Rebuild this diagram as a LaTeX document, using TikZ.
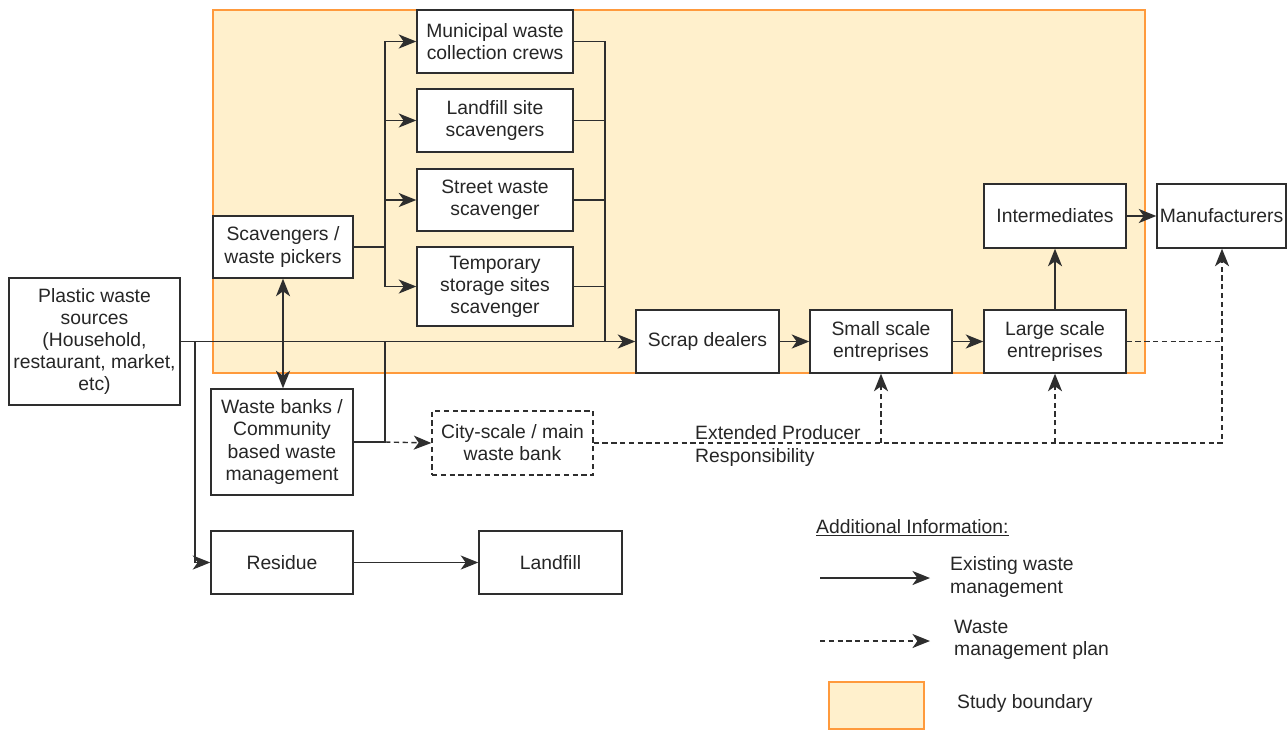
\documentclass[tikz,border=0pt]{standalone}
\usepackage{fontspec}
\setmainfont{Liberation Sans}
\usetikzlibrary{arrows.meta}

\definecolor{boundfill}{HTML}{FFF0CC}
\definecolor{boundline}{HTML}{FF9A3C}
\definecolor{linegray}{HTML}{2E2E2E}

\begin{document}
\begin{tikzpicture}[x=0.02cm, y=-0.02cm, >={Stealth[length=10pt,width=8pt,inset=2.8pt]},
    every node/.style={text=black!85, font=\fontsize{11}{12.6}\selectfont},
    box/.style={draw=linegray, fill=white, line width=0.8pt, align=center, inner sep=1pt},
    planbox/.style={box, dash pattern=on 3pt off 2pt},
    flow/.style={draw=linegray, line width=0.8pt},
    plan/.style={flow, dash pattern=on 3pt off 2pt},
    boundary/.style={draw=boundline, fill=boundfill, line width=1pt}]

    \useasboundingbox (0,0) rectangle (1287,731);

    % Study boundary
    \draw[boundary] (213,10) rectangle (1145,373);

    % Sources and collection
    \node[box, minimum width=3.42cm, minimum height=2.54cm] (src) at (94.5,341.5) {Plastic waste\\sources\\(Household,\\restaurant, market,\\etc)};
    \node[box, minimum width=2.8cm, minimum height=1.24cm] (scav) at (283,247) {Scavengers /\\waste pickers};
    \node[box, minimum width=2.84cm, minimum height=2.12cm] (bank) at (282,442) {Waste banks /\\Community\\based waste\\management};
    \node[planbox, minimum width=3.22cm, minimum height=1.28cm] (city) at (512.5,443) {City-scale / main\\waste bank};

    % The four scavenger groups
    \node[box, minimum width=3.12cm, minimum height=1.26cm] (muni) at (495,41.5) {Municipal waste\\collection crews};
    \node[box, minimum width=3.12cm, minimum height=1.26cm] (lfsc) at (495,120.5) {Landfill site\\scavengers};
    \node[box, minimum width=3.12cm, minimum height=1.24cm] (street) at (495,200) {Street waste\\scavenger};
    \node[box, minimum width=3.12cm, minimum height=1.58cm] (temp) at (495,286.5) {Temporary\\storage sites\\scavenger};

    % Recycling chain
    \node[box, minimum width=2.86cm, minimum height=1.26cm] (scrap) at (707.5,341.5) {Scrap dealers};
    \node[box, minimum width=2.84cm, minimum height=1.26cm] (small) at (881,341.5) {Small scale\\entreprises};
    \node[box, minimum width=2.84cm, minimum height=1.26cm] (large) at (1055,341.5) {Large scale\\entreprises};
    \node[box, minimum width=2.84cm, minimum height=1.28cm] (inter) at (1055,216) {Intermediates};
    \node[box, minimum width=2.58cm, minimum height=1.28cm] (manu) at (1221.5,216) {Manufacturers};

    % Residue
    \node[box, minimum width=2.84cm, minimum height=1.26cm] (residue) at (282,562.5) {Residue};
    \node[box, minimum width=2.86cm, minimum height=1.26cm] (landfill) at (550.5,562.5) {Landfill};

    % Junction points
    \coordinate (jl) at (195,341.5);
    \coordinate (split) at (385,247);
    \coordinate (merge) at (605,341.5);
    \coordinate (bj) at (385,442);
    \coordinate (epr) at (1222,443);

    % Existing flows
    \draw[flow,->] (src.east) -- (scrap.west);
    \draw[flow,->] (jl) |- (residue.west);
    \draw[flow,->] (residue.east) -- (landfill.west);
    \draw[flow,<->] (scav.south) -- (scav.south |- bank.north);
    \draw[flow] (scav.east) -- (split);
    \draw[flow,->] (split) |- (muni.west);
    \draw[flow,->] (split) |- (lfsc.west);
    \draw[flow,->] (split) |- (street.west);
    \draw[flow,->] (split) |- (temp.west);
    \draw[flow] (muni.east) -| (merge);
    \draw[flow] (lfsc.east) -| (merge);
    \draw[flow] (street.east) -| (merge);
    \draw[flow] (temp.east) -| (merge);
    \draw[flow] (bank.east) -- (bj) -- (bj |- src.east);
    \draw[flow,->] (scrap.east) -- (small.west);
    \draw[flow,->] (small.east) -- (large.west);
    \draw[flow,->] (large.north) -- (inter.south);
    \draw[flow,->] (inter.east) -- (manu.west);

    % Planned flows
    \draw[plan,->] (bj) -- (city.west);
    \draw[plan,->] (city.east) -- (epr) -- (epr |- manu.south);
    \draw[plan,->] (small.south |- epr) -- (small.south);
    \draw[plan,->] (large.south |- epr) -- (large.south);
    \draw[plan] (large.east) -- (large.east -| epr);
    \node[anchor=west, align=left] (eprtext) at (689,446) {Extended Producer\\Responsibility};

    % Legend
    \node[anchor=west] (addinfo) at (810,528) {\underline{Additional Information:}};
    \coordinate (ls1) at (820,578);
    \coordinate (le1) at (930,578);
    \draw[flow,->] (ls1) -- (le1);
    \node[anchor=west, align=left] (exist) at (944,577) {Existing waste\\management};
    \coordinate (ls2) at (820,641);
    \coordinate (le2) at (930,641);
    \draw[plan,->] (ls2) -- (le2);
    \node[anchor=west, align=left] (planned) at (948,640) {Waste\\management plan};
    \draw[boundary] (829,682) rectangle (924,729);
    \node[anchor=west] (studyb) at (951,703) {Study boundary};

\end{tikzpicture}
\end{document}
